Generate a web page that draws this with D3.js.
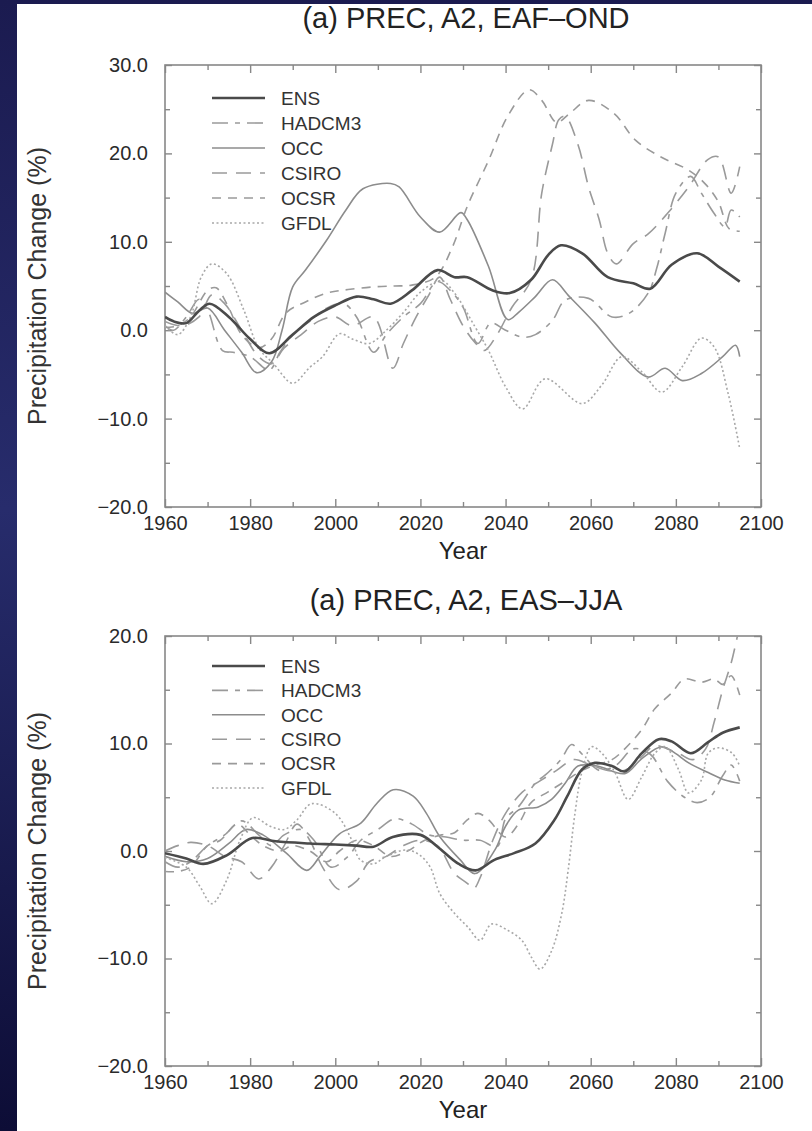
<!DOCTYPE html>
<html>
<head>
<meta charset="utf-8">
<script src="https://cdn.jsdelivr.net/npm/d3@7"></script>
<style>
  body { margin: 0; background: #1c1d55; }
  svg { display: block; }
</style>
</head>
<body>
<svg id="svg-container"></svg>
<script>
/////////////////////////////////////////////
////////////// Constants ////////////////////
/////////////////////////////////////////////

const width = 812;
const height = 1131;
const plotLeft = 165;
const plotRight = 761;
const fontFamily = "'Liberation Sans', Arial, sans-serif";

/////////////////////////////////////////////
//////////////// Data ///////////////////////
/////////////////////////////////////////////

const models = ["ENS", "HADCM3", "OCC", "CSIRO", "OCSR", "GFDL"];

const yearLabels = [1960, 1980, 2000, 2020, 2040, 2060, 2080, 2100];
const yearMinor = [1970, 1990, 2010, 2030, 2050, 2070, 2090];
const eafTicks = [30, 20, 10, 0, -10, -20];
const easTicks = [20, 10, 0, -10, -20];

// (a) EAF-OND : [year, % change]
const eafEns = [[1960,1.5],[1962,1.0],[1965,0.8],[1968,2.2],[1970.5,3.0],[1975,1.5],[1980,-1.0],[1984.5,-2.6],[1990,-0.5],[1995,1.5],[2000,2.8],[2005,3.8],[2009,3.5],[2013,3.0],[2018,4.5],[2024,6.8],[2028,6.0],[2031,6.0],[2037,4.5],[2041,4.2],[2046,5.7],[2050,8.5],[2053,9.6],[2058,8.7],[2064,6.0],[2070,5.3],[2074,4.7],[2079,7.4],[2085,8.7],[2090,7.2],[2095,5.5]];
const eafHadcm3 = [[1960,0.5],[1962,0.0],[1965,1.5],[1968,3.5],[1970,2.3],[1973.5,-2.3],[1976,-2.5],[1980,-3.0],[1984.5,-4.5],[1987,-2.5],[1990,-0.5],[1994,1.0],[1998,2.5],[2002,3.0],[2005,1.5],[2009,-2.5],[2012,-0.5],[2016,1.5],[2020,3.0],[2024,5.5],[2027,4.5],[2030,2.6],[2033.5,-1.5],[2036.5,0.8],[2040,0.0],[2044,-0.8],[2047,-0.5],[2051,1.1],[2054,3.4],[2059.5,3.6],[2065,1.5],[2069,1.9],[2073.5,4.2],[2075.5,7.0],[2077.5,11.0],[2080,15.5],[2083.5,17.4],[2086,15.5],[2089,13.2],[2091.5,11.7],[2093,13.6],[2095,12.8]];
const eafOcc = [[1960,4.3],[1963,3.2],[1966.5,1.9],[1970,2.5],[1974,0.0],[1978,-2.5],[1981.5,-4.8],[1985,-3.6],[1987.5,0.0],[1990,4.9],[1993,6.8],[1998,10.2],[2002.5,13.6],[2006.5,16.0],[2013,16.6],[2015,16.2],[2020,12.8],[2024.5,11.1],[2029.5,13.3],[2031,12.5],[2036,7.2],[2040.5,1.2],[2043,2.0],[2047,3.8],[2051,5.7],[2055,3.8],[2061,0.8],[2067,-2.6],[2073.5,-5.3],[2077.5,-4.3],[2081.5,-5.7],[2086,-4.9],[2091,-3.0],[2094,-1.7],[2095,-3.0]];
const eafCsiro = [[1960,1.0],[1964,0.5],[1968,1.5],[1971,4.0],[1974,3.0],[1978,0.0],[1982,-3.0],[1985,-3.8],[1988,-2.0],[1992,-0.5],[1996,1.0],[2000,1.5],[2004,0.5],[2009,1.5],[2013.5,-4.3],[2016,-1.5],[2019,1.5],[2022,4.0],[2024.5,6.0],[2027,3.5],[2030,0.5],[2033,-1.5],[2035,-2.3],[2038,-0.5],[2041.5,2.6],[2046,5.7],[2048.5,15.5],[2051,21.0],[2052.5,23.8],[2054,24.2],[2057,21.0],[2059.5,16.2],[2062,12.5],[2064,8.7],[2066,7.5],[2070,9.8],[2073.5,10.9],[2078,13.2],[2083,16.2],[2087.5,19.3],[2090,19.6],[2093,15.5],[2095,18.5]];
const eafOcsr = [[1960,0.3],[1963,0.5],[1966,1.5],[1970,4.5],[1972,4.8],[1975,2.5],[1978,-0.5],[1982,-2.0],[1985,-1.0],[1988.5,2.0],[1993,3.2],[1998,4.2],[2003,4.6],[2009,4.9],[2014,5.0],[2018,5.1],[2023.5,6.0],[2027.5,9.4],[2031,14.0],[2036,19.2],[2040.5,24.2],[2045.5,27.2],[2048.5,26.0],[2052,23.5],[2055,24.5],[2059.5,26.0],[2065.5,24.5],[2070.5,21.5],[2076.5,19.6],[2083,18.1],[2087,16.5],[2090,14.5],[2092.5,11.5],[2095,11.2]];
const eafGfdl = [[1960,0.5],[1963,-0.5],[1966,1.5],[1968.5,6.0],[1971,7.5],[1974.5,6.4],[1978.5,2.3],[1982,-2.0],[1985.5,-3.8],[1990,-6.0],[1994,-4.2],[1997,-3.0],[2001,-0.4],[2004,-1.0],[2008,-1.5],[2012,0.0],[2016,2.0],[2020,4.3],[2025,5.6],[2028,4.2],[2032.8,0.4],[2036,-2.3],[2040,-6.4],[2044,-8.9],[2049.3,-5.5],[2058,-8.3],[2062.6,-6.2],[2067.3,-3.0],[2072,-4.7],[2076.7,-7.0],[2081.4,-4.2],[2086,-0.9],[2089,-1.9],[2092.3,-7.2],[2095,-13.4]];

// (a) EAS-JJA : [year, % change]
const easEns = [[1960,-0.2],[1965,-0.7],[1969,-1.2],[1974.5,-0.4],[1980.5,1.2],[1986,0.9],[1994,0.7],[2000,0.6],[2005,0.5],[2009,0.4],[2013.5,1.3],[2020,1.5],[2024,0.4],[2029,-1.2],[2033,-1.8],[2037.5,-0.8],[2042,-0.2],[2047,0.7],[2051.5,2.9],[2054.5,5.1],[2058,7.6],[2061,8.2],[2065,7.9],[2068,7.4],[2072,9.1],[2076,10.4],[2079,10.2],[2083.5,9.1],[2087.5,10.1],[2091,11.0],[2095,11.5]];
const easHadcm3 = [[1960,-1.0],[1963,-1.5],[1966,-1.0],[1970,0.5],[1974,1.5],[1978,2.8],[1982,1.5],[1985,0.5],[1988,1.5],[1992,2.0],[1995,1.0],[1999,-1.5],[2003,-0.5],[2006,1.0],[2010,2.0],[2014,3.0],[2018,2.5],[2022,1.5],[2026,1.3],[2030,1.0],[2034,1.0],[2038,0.4],[2040,3.0],[2043,4.1],[2047,6.3],[2050,7.3],[2053,8.5],[2055.5,9.9],[2058,9.0],[2062,7.5],[2066,8.0],[2070,9.5],[2074,9.0],[2078,6.5],[2082,5.0],[2085,4.5],[2088,5.0],[2091,7.0],[2093,8.0],[2095,6.5]];
const easOcc = [[1960,-0.5],[1965,-1.0],[1970,-0.7],[1975,0.7],[1979,2.0],[1983,1.5],[1988.5,-0.2],[1993.3,-1.8],[1996.4,-0.5],[2001,1.6],[2006,2.6],[2009.7,4.4],[2013.6,5.7],[2018.3,5.1],[2021.4,3.5],[2024.6,1.3],[2029.3,-0.8],[2032.8,-2.1],[2037.5,0.1],[2040,2.3],[2043,3.8],[2047.7,4.1],[2050.8,4.8],[2054,6.3],[2057,7.9],[2061.5,7.9],[2068,7.2],[2072,8.6],[2076.7,9.7],[2079.8,9.1],[2083,8.2],[2087.6,7.3],[2091.5,6.6],[2095,6.3]];
const easCsiro = [[1960,0.0],[1963,0.5],[1966,0.8],[1970,0.5],[1974,-0.5],[1978,-1.0],[1982,-2.6],[1985,-1.5],[1988,0.5],[1991,2.5],[1994,1.0],[1997,-1.5],[2001,-3.6],[2005,-2.8],[2008,-1.0],[2012,-0.5],[2016,0.5],[2020,1.0],[2024,0.5],[2028,-2.1],[2031,-3.0],[2032.5,-3.5],[2034,-2.5],[2037,1.0],[2040,3.5],[2044,5.5],[2048,6.5],[2052,7.5],[2056,8.5],[2060,8.0],[2064,7.5],[2068,7.5],[2072,8.8],[2075,9.8],[2078,9.5],[2081,9.0],[2084,8.5],[2087,9.5],[2089,12.0],[2091,15.0],[2093,17.5],[2095,21.0]];
const easOcsr = [[1960,-1.9],[1963,-1.9],[1966,-1.5],[1970,0.5],[1973,1.0],[1977,2.5],[1980,1.5],[1983,0.5],[1987,0.0],[1990,0.5],[1994,0.0],[1998,-1.0],[2001,0.0],[2005,1.0],[2009,0.5],[2013,-0.5],[2017,0.0],[2021,1.0],[2025,1.5],[2028,1.7],[2031,2.9],[2033.5,3.5],[2036,2.9],[2040,1.3],[2043,2.5],[2046,4.5],[2050,5.5],[2054,6.5],[2058,7.5],[2061,8.0],[2065,8.5],[2068,9.5],[2072,11.3],[2075,13.2],[2079,14.7],[2082,16.0],[2086,15.7],[2089,16.0],[2091,15.5],[2093,16.3],[2095,14.5]];
const easGfdl = [[1960,-0.6],[1965,-1.5],[1968.2,-3.3],[1971,-4.9],[1974.5,-2.7],[1977.6,1.0],[1980.7,3.1],[1984.7,2.3],[1988,2.0],[1991,2.9],[1994.4,4.4],[2000,3.5],[2003.9,1.0],[2005.8,-0.8],[2008.9,-1.2],[2012,-0.5],[2016.8,0.1],[2019.9,-0.4],[2022.3,-1.5],[2024.6,-4.0],[2028,-5.8],[2031.2,-7.1],[2034,-8.3],[2036.7,-6.8],[2040.6,-7.4],[2043.8,-8.3],[2046.1,-9.9],[2048.1,-11.0],[2050.8,-9.3],[2053.2,-5.8],[2054.7,-1.8],[2056.3,3.5],[2057.9,7.3],[2060.2,9.7],[2062.6,9.1],[2065.7,7.3],[2068.8,4.8],[2072,6.9],[2075.1,9.1],[2077.5,9.7],[2080.6,7.6],[2083,5.4],[2086,6.6],[2087.6,9.1],[2090,9.6],[2093.2,9.1],[2095,7.9]];

/////////////////////////////////////////////
//////////////// Styles /////////////////////
/////////////////////////////////////////////

const lineStyle = {
  ENS:    { color: "#4a4a4a", width: 2.6, dash: null },
  HADCM3: { color: "#9a9a9a", width: 1.6, dash: "16,7,5,7" },
  OCC:    { color: "#8c8c8c", width: 1.6, dash: null },
  CSIRO:  { color: "#9a9a9a", width: 1.6, dash: "15,9" },
  OCSR:   { color: "#9a9a9a", width: 1.6, dash: "9,7" },
  GFDL:   { color: "#a8a8a8", width: 1.6, dash: "2,2.5" }
};

const panels = [
  {
    id: "eaf", title: "(a) PREC, A2, EAF\u2013OND", titleY: 28,
    top: 65, bottom: 507, domain: [-20, 30], ticks: eafTicks,
    legendY: 98, legendStep: 25,
    series: [eafEns, eafHadcm3, eafOcc, eafCsiro, eafOcsr, eafGfdl]
  },
  {
    id: "eas", title: "(a) PREC, A2, EAS\u2013JJA", titleY: 610,
    top: 636, bottom: 1066, domain: [-20, 20], ticks: easTicks,
    legendY: 666, legendStep: 24.4,
    series: [easEns, easHadcm3, easOcc, easCsiro, easOcsr, easGfdl]
  }
];

function drawChart() {
  const svg = d3.select("#svg-container")
    .attr("width", width)
    .attr("height", height);

  /// slide background ///
  const defs = svg.append("defs");
  const grad = defs.append("linearGradient")
    .attr("id", "bg-grad")
    .attr("x1", 0).attr("y1", 0).attr("x2", 0).attr("y2", 1);
  grad.append("stop").attr("offset", "0%").attr("stop-color", "#1b1b50");
  grad.append("stop").attr("offset", "45%").attr("stop-color", "#272c6c");
  grad.append("stop").attr("offset", "100%").attr("stop-color", "#0d0d36");

  svg.append("rect").attr("width", width).attr("height", height).attr("fill", "url(#bg-grad)");
  svg.append("rect")
    .attr("x", 17).attr("y", 4)
    .attr("width", width - 17).attr("height", height - 4)
    .attr("fill", "#ffffff");

  const xScale = d3.scaleLinear().domain([1960, 2100]).range([plotLeft, plotRight]);

  panels.forEach(panel => {
    const yScale = d3.scaleLinear().domain(panel.domain).range([panel.bottom, panel.top]);
    const g = svg.append("g").classed("panel-" + panel.id, true);
    const yMinor = d3.range(panel.domain[0] + 5, panel.domain[1], 10);

    /// title ///
    g.append("text")
      .attr("x", 466)
      .attr("y", panel.titleY)
      .attr("text-anchor", "middle")
      .attr("font-family", fontFamily)
      .attr("font-size", "29px")
      .attr("fill", "#222")
      .text(panel.title);

    /// clip for lines ///
    defs.append("clipPath").attr("id", "clip-" + panel.id)
      .append("rect")
        .attr("x", plotLeft).attr("y", panel.top)
        .attr("width", plotRight - plotLeft).attr("height", panel.bottom - panel.top);

    /// axes: ticks inward on all four sides ///
    const styleAxis = (sel) => {
      sel.select(".domain").remove();
      sel.selectAll(".tick line").attr("stroke", "#888").attr("stroke-width", 1.4);
      sel.selectAll(".tick text")
        .attr("font-family", fontFamily)
        .attr("font-size", "20px")
        .attr("fill", "#2a2a2a");
    };

    g.append("g")
      .attr("transform", `translate(0,${panel.bottom})`)
      .call(d3.axisBottom(xScale).tickValues(yearLabels).tickFormat(d3.format("d")).tickSize(-8).tickPadding(9))
      .call(styleAxis);
    g.append("g")
      .attr("transform", `translate(0,${panel.bottom})`)
      .call(d3.axisBottom(xScale).tickValues(yearMinor).tickFormat("").tickSize(-5))
      .call(styleAxis);
    g.append("g")
      .attr("transform", `translate(0,${panel.top})`)
      .call(d3.axisTop(xScale).tickValues(yearLabels).tickFormat("").tickSize(-8))
      .call(styleAxis);
    g.append("g")
      .attr("transform", `translate(0,${panel.top})`)
      .call(d3.axisTop(xScale).tickValues(yearMinor).tickFormat("").tickSize(-5))
      .call(styleAxis);

    g.append("g")
      .attr("transform", `translate(${plotLeft},0)`)
      .call(d3.axisLeft(yScale).tickValues(panel.ticks).tickFormat(d3.format(".1f")).tickSize(-7).tickPadding(17))
      .call(styleAxis);
    g.append("g")
      .attr("transform", `translate(${plotLeft},0)`)
      .call(d3.axisLeft(yScale).tickValues(yMinor).tickFormat("").tickSize(-5))
      .call(styleAxis);
    g.append("g")
      .attr("transform", `translate(${plotRight},0)`)
      .call(d3.axisRight(yScale).tickValues(panel.ticks).tickFormat("").tickSize(-7))
      .call(styleAxis);
    g.append("g")
      .attr("transform", `translate(${plotRight},0)`)
      .call(d3.axisRight(yScale).tickValues(yMinor).tickFormat("").tickSize(-5))
      .call(styleAxis);

    // frame
    g.append("rect")
      .attr("x", plotLeft).attr("y", panel.top)
      .attr("width", plotRight - plotLeft).attr("height", panel.bottom - panel.top)
      .attr("fill", "none").attr("stroke", "#888").attr("stroke-width", 1.6);

    /// axis titles ///
    g.append("text")
      .attr("x", (plotLeft + plotRight) / 2)
      .attr("y", panel.bottom + 52)
      .attr("text-anchor", "middle")
      .attr("font-family", fontFamily)
      .attr("font-size", "24px")
      .attr("fill", "#222")
      .text("Year");

    g.append("text")
      .attr("transform", `translate(46,${(panel.top + panel.bottom) / 2}) rotate(-90)`)
      .attr("text-anchor", "middle")
      .attr("font-family", fontFamily)
      .attr("font-size", "25px")
      .attr("fill", "#333")
      .text("Precipitation Change (%)");

    /// lines ///
    const line = d3.line()
      .x(d => xScale(d[0]))
      .y(d => yScale(d[1]))
      .curve(d3.curveCatmullRom.alpha(0.5));

    const linesG = g.append("g").attr("clip-path", `url(#clip-${panel.id})`);
    // draw ENS last so it sits on top
    const order = [1, 2, 3, 4, 5, 0];
    order.forEach(i => {
      const st = lineStyle[models[i]];
      linesG.append("path")
        .datum(panel.series[i])
        .attr("d", line)
        .attr("fill", "none")
        .attr("stroke", st.color)
        .attr("stroke-width", st.width)
        .attr("stroke-dasharray", st.dash)
        .attr("stroke-linejoin", "round");
    });

    /// legend ///
    const legend = g.append("g");
    models.forEach((m, i) => {
      const st = lineStyle[m];
      const y = panel.legendY + i * panel.legendStep;
      legend.append("line")
        .attr("x1", 212).attr("x2", 265)
        .attr("y1", y).attr("y2", y)
        .attr("stroke", st.color)
        .attr("stroke-width", st.width)
        .attr("stroke-dasharray", st.dash);
      legend.append("text")
        .attr("x", 281).attr("y", y)
        .attr("dy", "0.36em")
        .attr("font-family", fontFamily)
        .attr("font-size", "19px")
        .attr("fill", "#333")
        .text(m);
    });
  });
}
drawChart();
</script>
</body>
</html>
